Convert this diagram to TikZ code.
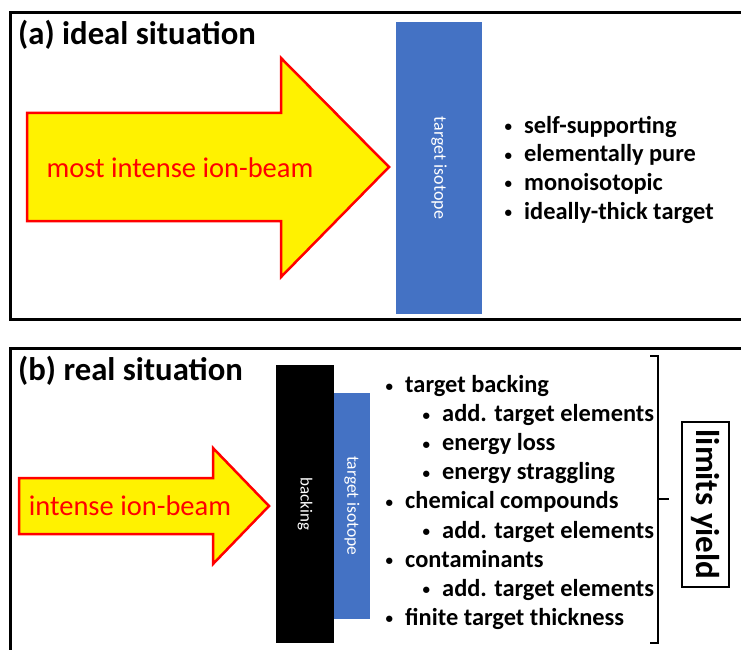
\documentclass[tikz,border=0pt]{standalone}
\usepackage{fontspec}
\setmainfont{Carlito}
\definecolor{tblue}{HTML}{4472C4}
\newcommand{\bul}{\makebox[19.5pt][l]{\fontsize{15}{15}\selectfont\raisebox{1.5pt}{•}}}
\begin{document}
\begin{tikzpicture}[x=1pt,y=-1pt,
  frame/.style={line width=3pt, draw=black, line join=miter},
  beam/.style={fill=yellow, draw=red, line width=2.5pt, line join=miter},
  beamtext/.style={text=red, anchor=base, inner sep=0pt, font=\fontsize{28.5}{28.5}\selectfont},
  layer/.style={rotate=-90, text=white, inner sep=0pt, font=\fontsize{18}{18}\selectfont},
  item/.style={anchor=base west, inner sep=0pt, font=\bfseries\fontsize{24.4}{24.4}\selectfont},
  heading/.style={anchor=base west, inner sep=0pt, font=\bfseries\fontsize{32.7}{32.7}\selectfont},
  brace/.style={line width=2.5pt, line join=miter}
]
\useasboundingbox (0,0) rectangle (741,650);
\clip (0,0) rectangle (741,650);

% ---------- panel (a)
\draw[frame] (745,13) -- (10,13) -- (10,319) -- (745,319);
\node[heading] (ta) at (18,45) {(a) ideal situation};
\draw[beam] (27,113) -- (281,113) -- (281,58) -- (389,167) -- (281,277) -- (281,221) -- (27,221) -- cycle;
\node[beamtext] (ba) at (180,177) {most intense ion-beam};
\node[layer, fill=tblue, minimum width=292pt, minimum height=86pt] (tia) at (439,168) {target isotope};
\node[item] (a1) at (504.5,133) {\bul self-supporting};
\node[item] (a2) at (504.5,161.7) {\bul elementally pure};
\node[item] (a3) at (504.5,190.3) {\bul monoisotopic};
\node[item] (a4) at (504.5,219) {\bul ideally-thick target};

% ---------- panel (b)
\draw[frame] (745,348) -- (10,348) -- (10,660);
\node[heading] (tb) at (18,380) {(b) real situation};
\draw[beam] (19,478) -- (213,478) -- (213,448) -- (269,506) -- (213,564) -- (213,534) -- (19,534) -- cycle;
\node[beamtext] (bb) at (130,515) {intense ion-beam};
\node[layer, fill=black, minimum width=278pt, minimum height=58pt, font=\fontsize{17}{17}\selectfont] (bk) at (305,504) {backing};
\node[layer, fill=tblue, minimum width=226pt, minimum height=36pt, font=\fontsize{17.5}{17.5}\selectfont] (tib) at (352,506) {target isotope};

\node[item] (b1) at (385.5,392.5) {\bul target backing};
\node[item] (b2) at (422.5,421.6) {\bul add. target elements};
\node[item] (b3) at (422.5,450.7) {\bul energy loss};
\node[item] (b4) at (422.5,479.8) {\bul energy straggling};
\node[item] (b5) at (385.5,508.9) {\bul chemical compounds};
\node[item] (b6) at (422.5,538) {\bul add. target elements};
\node[item] (b7) at (385.5,567.1) {\bul contaminants};
\node[item] (b8) at (422.5,596.2) {\bul add. target elements};
\node[item] (b9) at (385.5,625.3) {\bul finite target thickness};

% brace
\coordinate (bt) at (650,356);
\coordinate (bbt) at (650,643);
\coordinate (bm) at (669,499);
\draw[brace] (bt) -- (658,356) -- (658,643) -- (bbt);
\draw[brace] (658,499) -- (bm);

\node[draw, line width=2pt, rotate=-90, minimum width=165pt, minimum height=47pt,
  font=\bfseries\fontsize{33}{33}\selectfont, inner sep=0pt] (ly) at (705.5,504.5) {limits yield};
\end{tikzpicture}
\end{document}
